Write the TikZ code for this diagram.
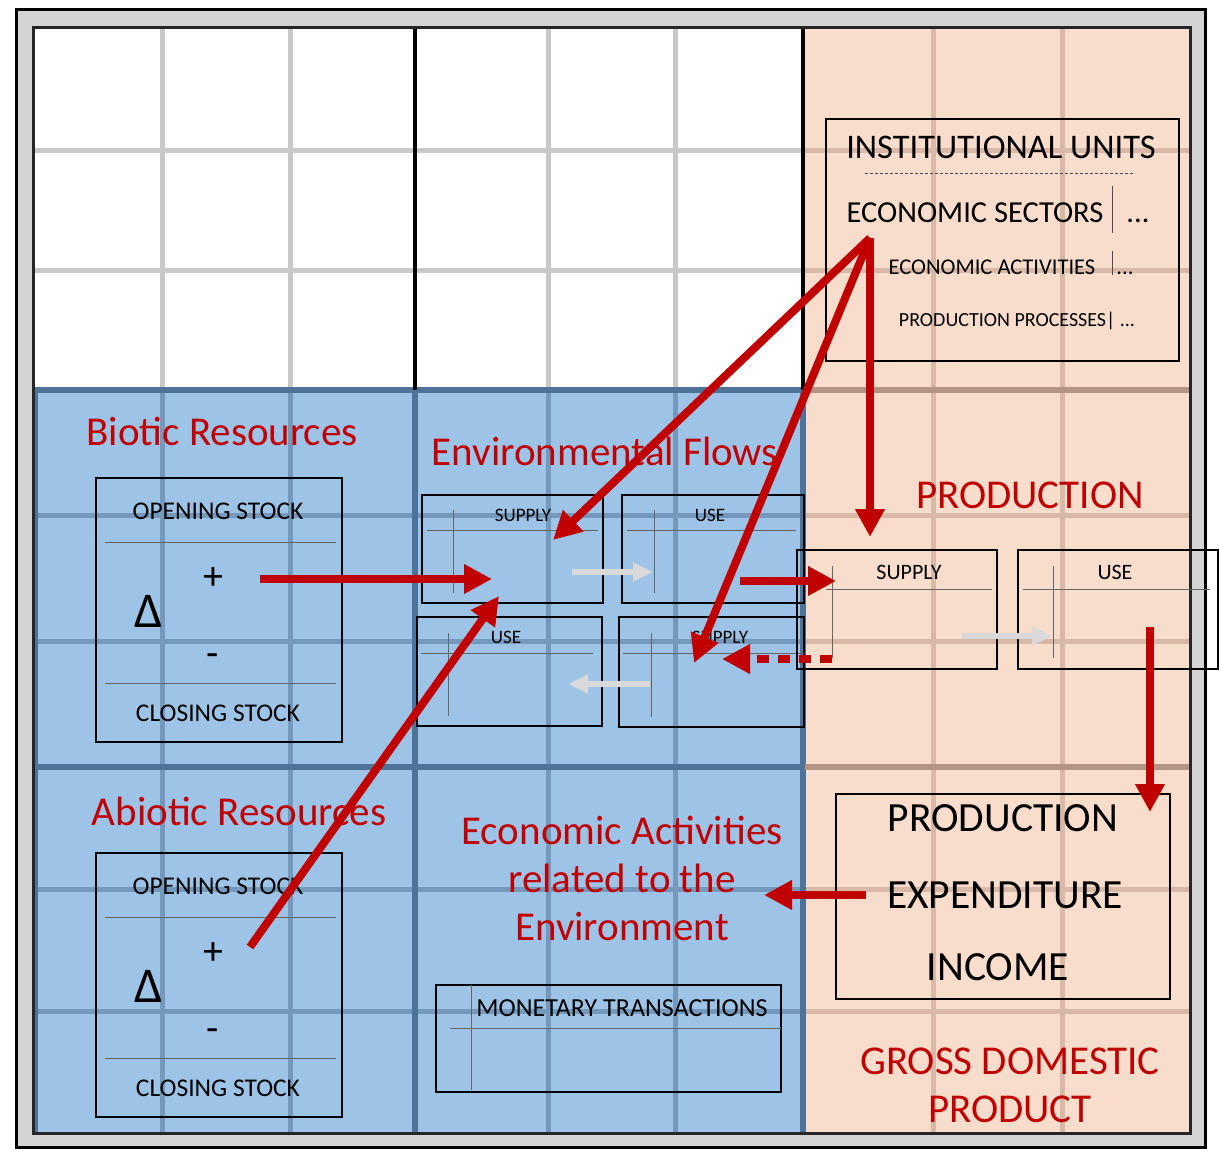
\documentclass[tikz,border=0pt]{standalone}
\usepackage{fontspec}
\setmainfont{Carlito}
\usetikzlibrary{arrows.meta}

\definecolor{flowred}{HTML}{C00000}
\definecolor{envblue}{HTML}{9DC3E6}
\definecolor{bluegrid}{HTML}{7499BC}
\definecolor{bluemain}{HTML}{4D7399}
\definecolor{peach}{HTML}{F9DDCC}
\definecolor{peachgrid}{HTML}{D8B9A8}
\definecolor{peachmain}{HTML}{B39585}
\definecolor{whitegrid}{HTML}{C8C8C8}
\definecolor{framegrey}{HTML}{D4D4D4}
\definecolor{paleflow}{HTML}{D9D9D9}

\tikzset{
  tablebox/.style={draw=black, line width=1.2pt},
  tablerule/.style={draw=black!60, line width=0.9pt},
  gridline/.style={line width=5pt},
  redflow/.style={draw=flowred, line width=8pt, -{Triangle[length=28pt,width=28pt]}},
  greyflow/.style={draw=paleflow, line width=6pt, -{Triangle[length=20pt,width=18pt]}},
  redlabel/.style={text=flowred, font=\fontsize{41}{48}\selectfont, align=center},
  hugetext/.style={font=\fontsize{41.5}{50}\selectfont, anchor=base},
  titletext/.style={font=\fontsize{34.5}{42}\selectfont, anchor=base},
  sectortext/.style={font=\fontsize{30.5}{36}\selectfont, anchor=base},
  stocktext/.style={font=\fontsize{25.5}{31}\selectfont, anchor=base},
  activitytext/.style={font=\fontsize{22.5}{27}\selectfont, anchor=base},
  processtext/.style={font=\fontsize{20}{24}\selectfont, anchor=base},
  boxtext/.style={font=\fontsize{22}{26}\selectfont, anchor=base},
  flowtext/.style={font=\fontsize{19}{23}\selectfont, anchor=base},
  signtext/.style={font=\fontsize{40}{48}\selectfont}
}

\begin{document}
\begin{tikzpicture}[x=1pt, y=-1pt]

\useasboundingbox (0,0) rectangle (1219,1149);
\fill [white] (0,0) rectangle (1219,1149);

% Frame
\filldraw [fill=framegrey, draw=black, line width=3pt] (16,9) rectangle (1205,1147);

% Cells
\fill [white] (33,27) rectangle (805,390);
\fill [envblue] (33,390) rectangle (805,1133);
\fill [peach] (805,27) rectangle (1190,1133);

% Grid lines
\foreach \x in {162,290,548,675}
  \draw [gridline, whitegrid] (\x,27) -- (\x,390);
\foreach \y in {150,270}
  \draw [gridline, whitegrid] (33,\y) -- (805,\y);
\foreach \x in {162,290,548,675}
  \draw [gridline, bluegrid] (\x,390) -- (\x,1133);
\foreach \y in {515,641,889,1011}
  \draw [gridline, bluegrid] (33,\y) -- (805,\y);
\foreach \x in {933,1062}
  \draw [gridline, peachgrid] (\x,27) -- (\x,1133);
\foreach \y in {150,270,515,641,889,1011}
  \draw [gridline, peachgrid] (805,\y) -- (1190,\y);

\draw [line width=6pt, bluemain] (33,390) -- (805,390) (33,767) -- (805,767);
\draw [line width=6pt, bluemain] (415,390) -- (415,1133) (803,390) -- (803,1133) (35,390) -- (35,1133);
\draw [line width=6pt, peachmain] (805,390) -- (1190,390) (805,767) -- (1190,767);
\draw [line width=4pt, black] (415,27) -- (415,390) (803,27) -- (803,390);
\draw [line width=3pt, black!85] (33,27) rectangle (1190,1133);

% Institutional units
\draw [tablebox] (826,119) rectangle (1179,361);
\node [titletext] (units) at (1001,158) {INSTITUTIONAL UNITS};
\draw [black!70, line width=0.8pt, dash pattern=on 3pt off 2pt] (865,173) -- (1135,173);
\node [sectortext] (sectors) at (975,222) {ECONOMIC SECTORS};
\draw [black!70, line width=1pt] (1112,186) -- (1112,233);
\node [sectortext] (sectorsmore) at (1138,222) {...};
\node [activitytext] (activities) at (992,274) {ECONOMIC ACTIVITIES};
\draw [black!70, line width=1pt] (1112,251) -- (1112,275);
\node [activitytext] (activitiesmore) at (1125,274) {...};
\node [processtext] (processes) at (1017,326) {PRODUCTION PROCESSES| ...};

% Biotic resources
\node [redlabel, anchor=base] (biotic) at (222,445) {Biotic Resources};
\draw [tablebox] (96,478) rectangle (342,742);
\node [stocktext] (bioopen) at (218,519) {OPENING STOCK};
\draw [tablerule] (105,542) -- (336,542);
\node [signtext] (bioplus) at (213,578) {+};
\node [signtext, font=\fontsize{50}{60}\selectfont] (biodelta) at (149,611) {Δ};
\node [signtext] (biominus) at (213,660) {-};
\draw [tablerule] (105,683) -- (336,683);
\node [stocktext] (bioclose) at (218,721) {CLOSING STOCK};

% Abiotic resources
\node [redlabel, anchor=base] (abiotic) at (239,825) {Abiotic Resources};
\draw [tablebox] (96,853) rectangle (342,1117);
\node [stocktext] (abioopen) at (218,894) {OPENING STOCK};
\draw [tablerule] (105,917) -- (336,917);
\node [signtext] (abioplus) at (213,953) {+};
\node [signtext, font=\fontsize{50}{60}\selectfont] (abiodelta) at (149,986) {Δ};
\node [signtext] (abiominus) at (213,1035) {-};
\draw [tablerule] (105,1058) -- (336,1058);
\node [stocktext] (abioclose) at (218,1096) {CLOSING STOCK};

% Environmental flows
\node [redlabel, anchor=base] (envflows) at (605,465) {Environmental Flows};
\draw [tablebox] (422,495) rectangle (603,603);
\draw [tablerule] (427,530) -- (598,530) (453,510) -- (453,593);
\node [flowtext] (envsupply) at (523,521) {SUPPLY};
\draw [tablebox] (622,495) rectangle (804,603);
\draw [tablerule] (627,530) -- (796,530) (654,510) -- (654,593);
\node [flowtext] (envuse) at (710,521) {USE};
\draw [tablebox] (417,617) rectangle (602,726);
\draw [tablerule] (421,653) -- (593,653) (448,633) -- (448,716);
\node [flowtext] (envusetwo) at (506,643) {USE};
\draw [tablebox] (619,617) rectangle (804,727);
\draw [tablerule] (623,653) -- (804,653) (651,633) -- (651,717);
\node [flowtext] (envsupplytwo) at (720,643) {SUPPLY};

% Production
\node [redlabel, anchor=base] (production) at (1030,508) {PRODUCTION};
\draw [tablebox] (797,550) rectangle (997,669);
\draw [tablerule] (826,589) -- (992,589) (832,566) -- (832,658);
\node [boxtext] (prodsupply) at (909,579) {SUPPLY};
\draw [tablebox] (1018,550) rectangle (1218,669);
\draw [tablerule] (1023,589) -- (1210,589) (1053,566) -- (1053,658);
\node [boxtext] (produse) at (1115,579) {USE};

% Aggregates
\draw [tablebox] (836,794) rectangle (1170,999);
\node [hugetext] (aggprod) at (1003,831) {PRODUCTION};
\node [hugetext] (aggexp) at (1005,908) {EXPENDITURE};
\node [hugetext] (agginc) at (998,980) {INCOME};
\node [redlabel] (gdp) at (1010,1085) {GROSS DOMESTIC\\PRODUCT};

% Economic activities
\node [redlabel] (econact) at (622,878) {Economic Activities\\related to the\\Environment};
\draw [tablebox] (436,985) rectangle (781,1092);
\draw [tablerule] (450,1028) -- (781,1028) (471,985) -- (471,1090);
\node [stocktext, font=\fontsize{26}{31}\selectfont] (monetary) at (622,1016) {MONETARY TRANSACTIONS};

% Pale flows
\coordinate (paleAfrom) at (572,572);
\coordinate (paleAto) at (653,572);
\coordinate (paleBfrom) at (650,684);
\coordinate (paleBto) at (568,684);
\coordinate (paleCfrom) at (962,636);
\coordinate (paleCto) at (1052,636);
\draw [greyflow] (paleAfrom) -- (paleAto);
\draw [greyflow] (paleBfrom) -- (paleBto);
\draw [greyflow] (paleCfrom) -- (paleCto);

% Red flows
\coordinate (apex) at (870,238);
\coordinate (envsupplytip) at (553,540);
\coordinate (envsupplytwotip) at (694,663);
\coordinate (prodtip) at (870,537);
\coordinate (bioout) at (260,579);
\coordinate (bioin) at (492,579);
\coordinate (abioout) at (250,947);
\coordinate (abioin) at (499,596);
\coordinate (useout) at (740,581);
\coordinate (usein) at (836,581);
\coordinate (backout) at (832,659);
\coordinate (backin) at (722,659);
\coordinate (gdpout) at (1150,627);
\coordinate (gdpin) at (1150,812);
\coordinate (expout) at (866,895);
\coordinate (expin) at (764,895);

\draw [redflow] (apex) -- (envsupplytip);
\draw [redflow] (apex) -- (envsupplytwotip);
\draw [redflow] (apex) -- (prodtip);
\draw [redflow] (bioout) -- (bioin);
\draw [redflow] (abioout) -- (abioin);
\draw [redflow] (useout) -- (usein);
\draw [redflow, dash pattern=on 12pt off 9pt] (backout) -- (backin);
\draw [redflow] (gdpout) -- (gdpin);
\draw [redflow] (expout) -- (expin);

\end{tikzpicture}
\end{document}
